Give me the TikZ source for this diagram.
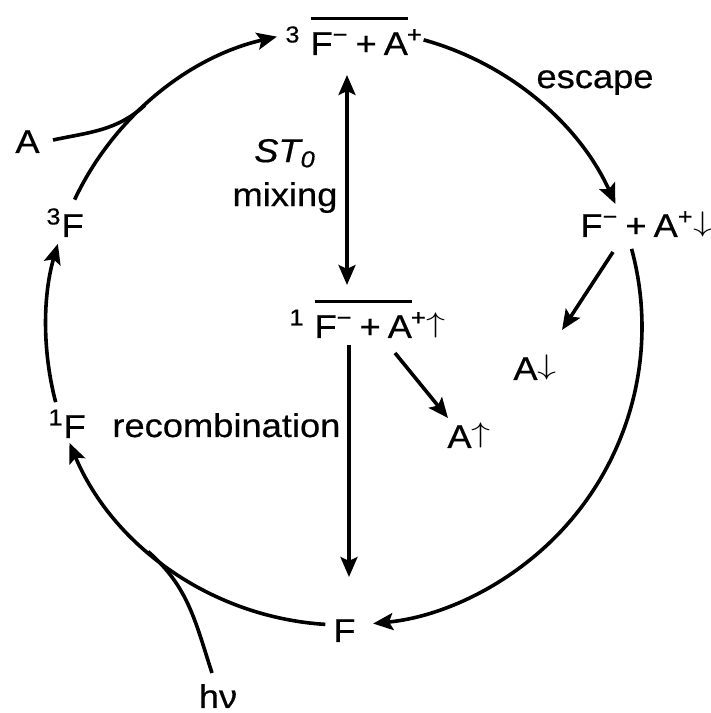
\documentclass[tikz,border=0pt]{standalone}
\usepackage{fontspec}
\usepackage{graphicx}
\setmainfont{Liberation Sans}[FakeStretch=1.1,FakeBold=0.5]
\usetikzlibrary{arrows.meta,calc}
\newcommand{\ovl}[1]{\vbox{\hrule height 1.5pt\kern 6pt\hbox{#1}}}
\newcommand{\supminus}{\textsuperscript{\symbol{"2212}}}
\newcommand{\pl}{\hspace{3.5pt}+\hspace{3.5pt}}
\newcommand{\uparr}{\raisebox{0.16em}{\scalebox{1.1}[0.82]{$\uparrow$}}}
\newcommand{\dnarr}{\raisebox{0.16em}{\scalebox{1.1}[0.82]{$\downarrow$}}}
\newcommand{\lblfont}{\fontsize{16.5}{22}\selectfont}
\tikzset{
  lbl/.style={inner sep=0pt, font=\lblfont},
  ln/.style={line width=1.8pt},
  arr/.style={ln, -{Stealth[length=10pt,width=8.5pt,inset=2pt]}},
  darr/.style={ln, {Stealth[length=10pt,width=8.5pt,inset=2pt]}-{Stealth[length=10pt,width=8.5pt,inset=2pt]}},
}
\begin{document}
\begin{tikzpicture}[x=0.5pt,y=0.5pt]
\useasboundingbox (0,0) rectangle (711,713);
\coordinate (C) at (344,386);
% text nodes
\node[lbl, anchor=base west] (top) at (285,658) {\textsuperscript{3}\hspace{5pt}\ovl{F\supminus\pl A}\kern-0.5pt\textsuperscript{+}};
\node[lbl, anchor=base west] (mid) at (289,375) {\textsuperscript{1}\hspace{5pt}\ovl{F\supminus\pl A}\kern-0.5pt\textsuperscript{+}\uparr};
\node[lbl, align=center] (st) at (285,537) {\textit{ST\textsubscript{0}}\\mixing};
\node[lbl, anchor=base] (esc) at (595,625) {escape};
\node[lbl, anchor=base west] (fa) at (580,476) {F\supminus\pl A\textsuperscript{+}\dnarr};
\node[lbl, anchor=base west] (adn) at (513,333) {A\dnarr};
\node[lbl, anchor=base west] (aup) at (447,265) {A\uparr};
\node[lbl, anchor=base west] (tf) at (46,476) {\textsuperscript{3}F};
\node[lbl, anchor=base west] (a) at (15,560) {A};
\node[lbl, anchor=base west] (sf) at (48,275) {\textsuperscript{1}F};
\node[lbl, anchor=base west] (rec) at (112,276) {recombination};
\node[lbl, anchor=base west] (f) at (333,71) {F};
\node[lbl, anchor=base] (hv) at (218,5) {hν};
% circle points
\coordinate (p1) at ($(C)+(154.7:298)$);
\coordinate (p3) at ($(C)+(74.5:298)$);
\coordinate (p4) at ($(C)+(15.2:298)$);
\coordinate (p5) at ($(C)+(-93.6:298)$);
\coordinate (p6) at ($(C)+(194.6:298)$);
\coordinate (mA) at ($(C)+(131.9:298)$);
\coordinate (mH) at ($(C)+(228.9:298)$);
\coordinate (aS) at (53,573);
\coordinate (hS) at (212,40);
% circle arcs
\draw[arr] (p1) arc[start angle=154.7, end angle=103, radius=149pt];
\draw[arr] (p3) arc[start angle=74.5, end angle=24.4, radius=149pt];
\draw[arr] (p4) arc[start angle=15.2, end angle=-84.4, radius=149pt];
\draw[arr] (p5) arc[start angle=-93.6, end angle=-157.1, radius=149pt];
\draw[arr] (p6) arc[start angle=194.6, end angle=163.8, radius=149pt];
% joining curves
\draw[ln] (aS) to[out=12, in=221.9] (mA);
\draw[ln] (hS) to[out=108, in=318.9] (mH);
% straight connectors
\coordinate (d1) at (347,638);
\coordinate (d2) at (347,428);
\coordinate (r1) at (349,368);
\coordinate (r2) at (349,136);
\coordinate (u1) at (395,360);
\coordinate (u2) at (448,295);
\coordinate (e1) at (613,461);
\coordinate (e2) at (562,383);
\draw[darr] (d1) -- (d2);
\draw[arr] (r1) -- (r2);
\draw[arr] (u1) -- (u2);
\draw[arr] (e1) -- (e2);
\end{tikzpicture}
\end{document}
